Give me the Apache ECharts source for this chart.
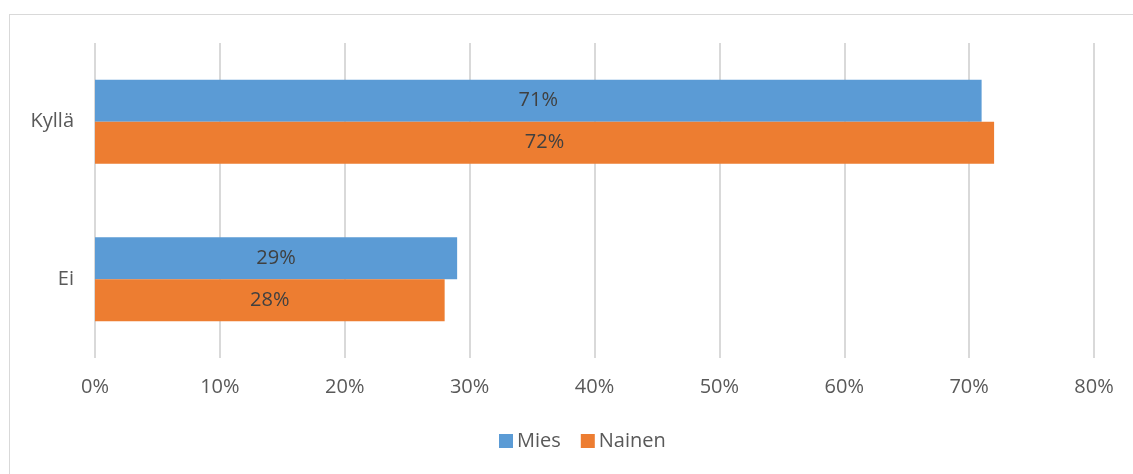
<!DOCTYPE html>
<html>
<head>
<meta charset="utf-8">
<script src="https://cdn.jsdelivr.net/npm/echarts@6/dist/echarts.min.js"></script>
<style>
	html, body { margin: 0; padding: 0; background: #fff; }
	#frame { position: absolute; left: 9px; top: 14px; width: 1140px; height: 480px; border: 1px solid #d9d9d9; box-sizing: border-box; }
	#chart { position: absolute; left: 0; top: 0; width: 1133px; height: 474px; }
</style>
</head>
<body>
<div id="frame"></div>
<div id="chart"></div>
<script>
var categories = ['Kyllä', 'Ei'];
var seriesNames = ['Mies', 'Nainen'];
var miesValues = [71, 29];
var nainenValues = [72, 28];
var colors = ['#5b9bd5', '#ed7d31'];

var font = '"Open Sans", sans-serif';
var chart = echarts.init(document.getElementById('chart'));

function makeSeries(name, data, color) {
	return {
		name: name,
		type: 'bar',
		data: data,
		barWidth: 42,
		barGap: '0%',
		itemStyle: { color: color },
		label: {
			show: true,
			position: 'inside',
			formatter: '{c}%',
			color: '#404040',
			fontSize: 20,
			fontFamily: font
		}
	};
}

chart.setOption({
	animation: false,
	textStyle: { fontFamily: font },
	grid: { left: 95, right: 39, top: 43, bottom: 116, containLabel: false },
	legend: {
		bottom: 18,
		left: 494,
		itemWidth: 14,
		itemHeight: 14,
		itemGap: 20,
		icon: 'rect',
		textStyle: { color: '#595959', fontSize: 20, fontFamily: font, padding: [0, 0, 0, -1] },
		data: seriesNames
	},
	xAxis: {
		type: 'value',
		min: 0,
		max: 80,
		interval: 10,
		axisLine: { show: false },
		axisTick: { show: false },
		axisLabel: { formatter: '{value}%', color: '#595959', fontSize: 20, margin: 19, fontFamily: font },
		splitLine: { lineStyle: { color: '#d9d9d9', width: 2 } }
	},
	yAxis: {
		type: 'category',
		data: categories,
		inverse: true,
		axisLine: { show: false },
		axisTick: { show: false },
		axisLabel: { color: '#595959', fontSize: 20, margin: 21, fontFamily: font }
	},
	series: [
		makeSeries(seriesNames[0], miesValues, colors[0]),
		makeSeries(seriesNames[1], nainenValues, colors[1])
	]
});
</script>
</body>
</html>
